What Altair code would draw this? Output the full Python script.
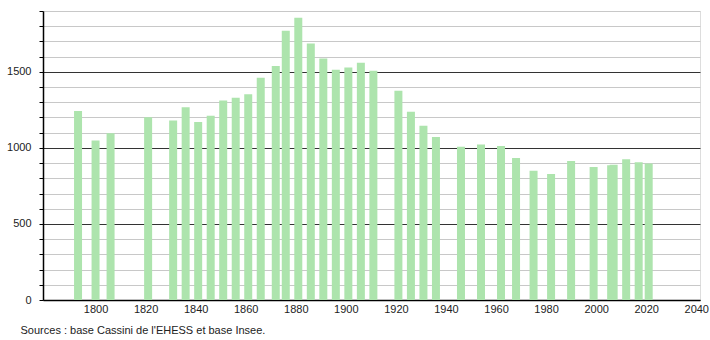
import altair as alt
import pandas as pd

years = [1793, 1800, 1806, 1821, 1831, 1836, 1841, 1846, 1851, 1856, 1861, 1866,
         1872, 1876, 1881, 1886, 1891, 1896, 1901, 1906, 1911, 1921, 1926, 1931,
         1936, 1946, 1954, 1962, 1968, 1975, 1982, 1990, 1999, 2006, 2007, 2012,
         2017, 2021]
population = [1243, 1048, 1097, 1202, 1180, 1268, 1171, 1211, 1311, 1329, 1353, 1461,
              1539, 1770, 1855, 1686, 1588, 1513, 1529, 1559, 1507, 1375, 1237, 1145,
              1072, 1007, 1022, 1013, 934, 849, 829, 914, 875, 886, 890, 925,
              906, 897]
x_labels = [1800, 1820, 1840, 1860, 1880, 1900, 1920, 1940, 1960, 1980, 2000, 2020, 2040]
y_ticks = list(range(0, 2000, 100))
source_text = "Sources : base Cassini de l'EHESS et base Insee."

df = pd.DataFrame({"year": years, "pop": population})

FONT = "Liberation Sans"

chart = alt.Chart(df).mark_bar(size=8, color="#ade4ad").encode(
    x=alt.X("year:Q",
            scale=alt.Scale(domain=[1779, 2041.5], nice=False, zero=False, padding=0),
            axis=alt.Axis(values=x_labels, format="d", title=None, ticks=False,
                          grid=False, domainColor="#000000", domainWidth=1.5,
                          labelPadding=3, labelFont=FONT, labelFontSize=11,
                          labelColor="#222222")),
    y=alt.Y("pop:Q",
            scale=alt.Scale(domain=[0, 1900], nice=False),
            axis=alt.Axis(values=y_ticks, format="d", title=None,
                          labelExpr="datum.value % 500 === 0 ? datum.label : ''",
                          tickSize=4, tickColor="#000000", domainColor="#000000",
                          domainWidth=1.5, labelPadding=8, labelFont=FONT,
                          labelFontSize=11, labelColor="#222222",
                          gridColor=alt.condition("datum.value % 500 === 0",
                                                  alt.value("#333333"),
                                                  alt.value("#c8c8c8")),
                          gridWidth=1)),
).properties(
    width=657,
    height=289,
    autosize=alt.AutoSizeParams(type="none"),
    padding={"left": 43, "top": 11, "right": 10, "bottom": 40},
    title=alt.TitleParams(source_text, orient="bottom", anchor="start",
                          font=FONT, fontSize=11, fontWeight="normal",
                          color="#222222", dx=14, offset=11),
).configure_view(stroke=None).configure(background="white")

chart.save("out.html", embed_options={"renderer": "svg", "actions": False})
